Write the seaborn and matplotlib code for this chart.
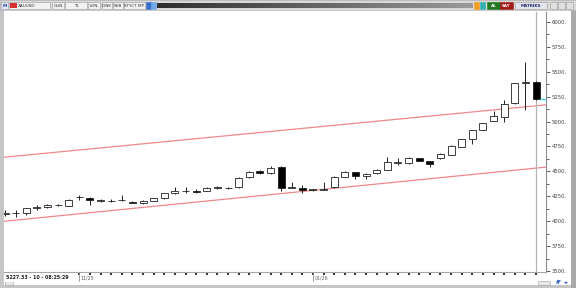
import numpy as np
import pandas as pd
import matplotlib
matplotlib.use("Agg")
import matplotlib.pyplot as plt
import matplotlib.transforms as mtransforms
from matplotlib.patches import Rectangle
import seaborn as sns

# ---------------- data ----------------
opens = [4075, 4085, 4078, 4132, 4138, 4165, 4156, 4238, 4236, 4204,
         4205, 4210, 4194, 4180, 4206, 4236, 4280, 4300, 4303, 4306,
         4335, 4338, 4340, 4440, 4500, 4481, 4547, 4335, 4338, 4312,
         4318, 4340, 4447, 4490, 4450, 4481, 4514, 4586, 4581, 4631,
         4604, 4631, 4665, 4748, 4822, 4916, 5009, 5050, 5184, 5385,
         5401]
closes = [4085, 4078, 4130, 4138, 4163, 4158, 4213, 4242, 4213, 4208,
          4201, 4215, 4186, 4206, 4230, 4280, 4306, 4306, 4298, 4337,
          4339, 4334, 4437, 4497, 4483, 4531, 4330, 4339, 4312, 4322,
          4324, 4447, 4497, 4457, 4476, 4514, 4591, 4590, 4638, 4604,
          4574, 4675, 4755, 4825, 4916, 4983, 5056, 5177, 5385, 5401,
          5227]
highs = [4110, 4110, 4135, 4160, 4168, 4170, 4218, 4265, 4240, 4225,
         4222, 4262, 4200, 4210, 4235, 4285, 4347, 4345, 4320, 4340,
         4350, 4345, 4440, 4500, 4515, 4557, 4550, 4397, 4362, 4325,
         4397, 4450, 4500, 4495, 4480, 4520, 4641, 4631, 4642, 4636,
         4608, 4680, 4760, 4830, 4920, 4990, 5106, 5217, 5392, 5601,
         5405]
lows = [4050, 4045, 4060, 4115, 4135, 4150, 4150, 4215, 4165, 4190,
        4190, 4200, 4180, 4175, 4200, 4220, 4278, 4285, 4280, 4303,
        4325, 4328, 4335, 4435, 4470, 4478, 4303, 4330, 4282, 4305,
        4315, 4335, 4445, 4421, 4420, 4470, 4510, 4564, 4578, 4600,
        4541, 4625, 4660, 4740, 4775, 4912, 5005, 5000, 5180, 5116,
        5220]

y_ticks = [3500, 3750, 4000, 4250, 4500, 4750, 5000, 5250, 5500, 5750, 6000]
x_label_pos = [7, 29]
x_labels = ["11/25", "01/26"]
chan_x = [-0.47, 50.94]
chan_lower = [3995, 4543]
chan_upper = [4638, 5168]
status_text = "5227.33 - 10 - 08:25:29"
symbol = "XAUUSD"
toolbar_labels = ["GUN", "TL", "LON", "IONK", "SVB", "STYCT MP"]

# ---------------- figure ----------------
sns.set_style("white")
plt.rcParams['font.family'] = ['DejaVu Sans']

W, H = 576, 288
fig = plt.figure(figsize=(5.76, 2.88), dpi=100, facecolor='#c6c6c6')


def fx(x):
    return x / W


def fy(y):
    return 1 - y / H


def frect(x0, y0, x1, y1, **kw):
    fig.patches.append(Rectangle((fx(x0), fy(y1)), (x1 - x0) / W, (y1 - y0) / H,
                                 transform=fig.transFigure, **kw))


# window background (behind everything)
frect(4, 10, 571, 285, fc='white', ec='none', zorder=-5)
frect(571, 10, 576, 288, fc='#a9a9a9', ec='none', zorder=-5)
frect(0, 0, 576, 10, fc='#d9d9d9', ec='#b0b0b0', lw=0.4, zorder=-5)

# ---------------- main axes ----------------
ax = fig.add_axes([fx(4), fy(272), 542 / W, 260 / H])
ax.set_facecolor('white')

idx = np.arange(len(opens))
o = np.array(opens, float)
c = np.array(closes, float)
bottoms = np.minimum(o, c)
heights = np.abs(c - o)
fills = ['black' if cc < oo else 'white' for oo, cc in zip(o, c)]

# channel lines
sns.lineplot(x=chan_x, y=chan_lower, ax=ax, color='#f08888', lw=0.9, zorder=1)
sns.lineplot(x=chan_x, y=chan_upper, ax=ax, color='#f08888', lw=0.9, zorder=1)

# cursor line
ax.axvline(idx[-1], color='#b4b4b4', lw=0.9, zorder=1)

# candles
ax.vlines(idx, lows, highs, colors='#202020', lw=0.7, zorder=2)
ax.bar(idx, heights, bottom=bottoms, width=0.66, color=fills,
       edgecolor='#202020', linewidth=0.6, zorder=3)

# current price marker
ax.hlines(closes[-1], idx[-1] + 0.35, 50.94, color='#3fd6e0', lw=1.0, zorder=4)

ax.set_xlim(-0.094, 50.94)
ax.set_ylim(3490, 6100)

# y axis on right
ax.yaxis.tick_right()
ax.set_yticks(y_ticks)
ax.set_yticklabels([f"{v}." for v in y_ticks])
ax.set_yticks([v + 125 for v in y_ticks[:-1]], minor=True)
ax.tick_params(axis='y', which='both', right=True, left=False)
ax.tick_params(axis='y', which='major', direction='out', length=3, width=0.6,
               color='#404040', labelsize=3.8, labelcolor='#404040', pad=1)
ax.tick_params(axis='y', which='minor', direction='out', length=2, width=0.6,
               color='#404040')

# x ticks: one per candle
ax.set_xticks(idx)
ax.set_xticklabels([])
ax.tick_params(axis='x', which='major', bottom=True, direction='out',
               length=2.5, width=1.3, color='#202020', pad=0)

for s in ['left', 'top']:
    ax.spines[s].set_visible(False)
ax.spines['right'].set_color('#8c8c8c')
ax.spines['right'].set_linewidth(0.8)
ax.spines['bottom'].set_color('#a6a6a6')
ax.spines['bottom'].set_linewidth(0.8)

blend = mtransforms.blended_transform_factory(ax.transData, ax.transAxes)
for p, lab in zip(x_label_pos, x_labels):
    ax.plot([p, p], [0, -0.035], transform=blend, color='#909090', lw=0.6,
            clip_on=False)
    ax.text(p + 0.15, -0.024, lab, transform=blend, fontsize=3.4,
            color='#606060', ha='left', va='center')

ax.set_xlabel('')
ax.set_ylabel('')
ax.grid(False)

# ---------------- status / decorations ----------------
fig.text(fx(6), fy(277.5), status_text, fontsize=3.4, weight='bold',
         color='#202020', ha='left', va='center',
         bbox=dict(fc='white', ec='none', pad=1.2), zorder=5)
frect(5, 281, 13, 285, fc='#e8e8e8', ec='#a0a0a0', lw=0.4, zorder=5)
frect(538, 281, 550, 285, fc='#e8e8e8', ec='#a0a0a0', lw=0.4, zorder=5)
fig.text(fx(556), fy(283), "ff", fontsize=4.2, weight='bold', style='italic',
         color='#2a5cc8', ha='left', va='center')
fig.text(fx(564), fy(283), "\u25c2\u25b8", fontsize=3.6, color='#2a5cc8',
         ha='left', va='center')

# ---------------- toolbar ----------------
def tbox(x0, x1, label, fc='white', tc='#303030', ec='#9a9a9a', bold=False):
    frect(x0, 2, x1, 9, fc=fc, ec=ec, lw=0.4, zorder=2)
    if label:
        fig.text(fx((x0 + x1) / 2), fy(5.6), label, fontsize=3.0, color=tc,
                 ha='center', va='center', weight='bold' if bold else 'normal',
                 zorder=3)


tbox(1, 8, "M", fc='#e0e8f8', tc='#2040a0', bold=True)
tbox(9, 50, "", fc='#f2f2f2')
frect(10, 3, 17, 8, fc='#d83030', ec='none', zorder=3)
fig.text(fx(18), fy(5.6), symbol, fontsize=3.0, color='#303030', ha='left',
         va='center', zorder=3)
tb_pos = [(52, 64), (65, 87), (88, 100), (102, 112), (113, 123), (124, 145)]
for (a, b), lab in zip(tb_pos, toolbar_labels):
    tbox(a, b, lab, fc='#f2f2f2')
tbox(146, 151, "", fc='#3a6fd0', ec='#3a6fd0')
tbox(151, 156, "", fc='#6fa8e8', ec='#6fa8e8')

# dark gradient bar
grad = np.linspace(0, 1, 256).reshape(1, -1)
gax = fig.add_axes([fx(157), fy(8.3), (473 - 157) / W, 5 / H])
gax.imshow(grad, aspect='auto', cmap=matplotlib.colors.LinearSegmentedColormap.from_list(
    'g', ['#2e2e2e', '#9a9a9a']))
gax.set_axis_off()

tbox(474, 479, "", fc='#f0a020', ec='#f0a020')
tbox(480, 485, "", fc='#30b0b0', ec='#30b0b0')
tbox(487, 500, "AL", fc='#1f7a1f', tc='white', ec='#1f7a1f', bold=True)
tbox(500, 513, "SAT", fc='#a01818', tc='white', ec='#a01818', bold=True)
tbox(515, 547, "MATRIKS", fc='#e4e4ec', tc='#203070', bold=True)
tbox(550, 557, "", fc='#e0e0e0')
tbox(558, 565, "", fc='#e0e0e0')
tbox(566, 573, "", fc='#e0e0e0')

fig.savefig('out.png', dpi=100, facecolor=fig.get_facecolor())
